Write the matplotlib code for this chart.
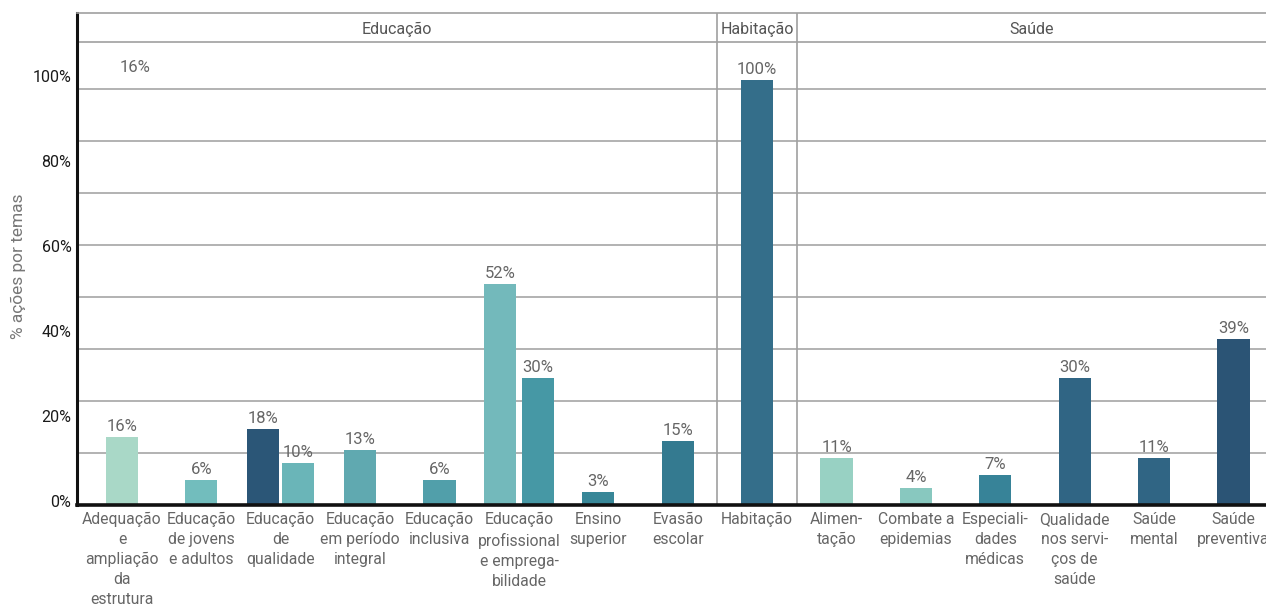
import matplotlib
matplotlib.use("Agg")
import matplotlib.pyplot as plt
import matplotlib.transforms as mtransforms

plt.rcParams['font.family'] = ['Roboto', 'DejaVu Sans']

# themes and share of actions (%)
categories = [
    "Adequação\ne\nampliação\nda\nestrutura",
    "Educação\nde jovens\ne adultos",
    "Educação\nde\nqualidade",
    "Educação\nem período\nintegral",
    "Educação\ninclusiva",
    "Educação\nprofissional\ne emprega-\nbilidade",
    "Ensino\nsuperior",
    "Evasão\nescolar",
    "Habitação",
    "Alimen-\ntação",
    "Combate a\nepidemias",
    "Especiali-\ndades\nmédicas",
    "Qualidade\nnos servi-\nços de\nsaúde",
    "Saúde\nmental",
    "Saúde\npreventiva",
]
values = [16, 6, 18, 13, 6, 52, 3, 15, 100, 11, 4, 7, 30, 11, 39]
second_values = [None, None, 10, None, None, 30, None, None, None,
                 None, None, None, None, None, None]
groups = ["Educação", "Habitação", "Saúde"]
group_sizes = [8, 1, 6]
yticks = [0, 20, 40, 60, 80, 100]

colors = ["#a9d8c7", "#72bdbd", "#2b5677", "#60a9b0", "#519faa", "#73b9bb",
          "#388798", "#347a90", "#346e8a", "#98d1c3", "#88c8bf", "#378398",
          "#306584", "#306584", "#2b5475"]
second_colors = {2: "#6ab5b8", 5: "#4698a5"}

px_per_unit = 4.25          # pixels per percentage point
grid_step = 52 / px_per_unit
width = 0.405

fig = plt.figure(figsize=(12.66, 6.05), dpi=100)
ax = fig.add_axes([77 / 1266, 100 / 605, 1 - 77 / 1266, 492 / 605])
ymax = 492 / px_per_unit
header_y = (505 - 42) / px_per_unit
ax.set_xlim(-0.567, 14.41)
ax.set_ylim(0, ymax)

# horizontal rules
for k in range(1, 9):
    ax.axhline(k * grid_step, color="#a6a6a6", lw=1.2, zorder=0)
ax.axhline(header_y, color="#a0a0a0", lw=1.2, zorder=0)

# bars
xs = list(range(len(categories)))
for i, (v, v2) in enumerate(zip(values, second_values)):
    if v2 is None:
        pos = [(i, v, colors[i])]
    else:
        off = 0.22 if i == 2 else 0.24
        pos = [(i - off, v, colors[i]), (i + off, v2, second_colors[i])]
    for x, val, c in pos:
        ax.bar(x, val, width=width, color=c, zorder=2)
        ax.annotate(f"{val}%", (x, val), xytext=(0, 2), textcoords="offset points",
                    ha="center", va="bottom", fontsize=12, color="#666666")

# loose label near the top
ax.text(0.16, (505 - 67) / px_per_unit, f"{values[0]}%", ha="center", va="center",
        fontsize=12, color="#666666")

# group dividers and headers
start = -0.567
edge = 0
for g, n in zip(groups, group_sizes):
    edge += n
    right = edge - 0.5 if edge < len(categories) else 14.41
    if edge < len(categories):
        ax.axvline(right, color="#a0a0a0", lw=1.2, zorder=1)
    ax.text((start + right) / 2, (505 - 29) / px_per_unit, g, ha="center",
            va="center", fontsize=11.5, color="#555555")
    start = right

ax.spines["top"].set_color("#a0a0a0")
ax.spines["top"].set_linewidth(1.2)
ax.spines["right"].set_visible(False)
ax.spines["left"].set_linewidth(2.2)
ax.spines["left"].set_color("#111111")
ax.spines["bottom"].set_linewidth(2.6)
ax.spines["bottom"].set_color("#111111")

ax.set_xticks(xs)
ax.set_xticklabels(categories, fontsize=11.3, color="#666666", linespacing=1.42)
ax.tick_params(axis="x", length=0, pad=5)

ax.set_yticks(yticks)
ax.set_yticklabels([f"{t}%" for t in yticks], fontsize=11.5, color="#1a1a1a")
ax.tick_params(axis="y", length=0, pad=4)
shift = mtransforms.ScaledTranslation(0, 4 / 100, fig.dpi_scale_trans)
for lab in ax.get_yticklabels():
    lab.set_transform(lab.get_transform() + shift)

fig.text(18 / 1266, 1 - 266 / 605, "% ações por temas", rotation=90, ha="center",
         va="center", fontsize=12.5, color="#777777")

fig.savefig("out.png", dpi=100)
